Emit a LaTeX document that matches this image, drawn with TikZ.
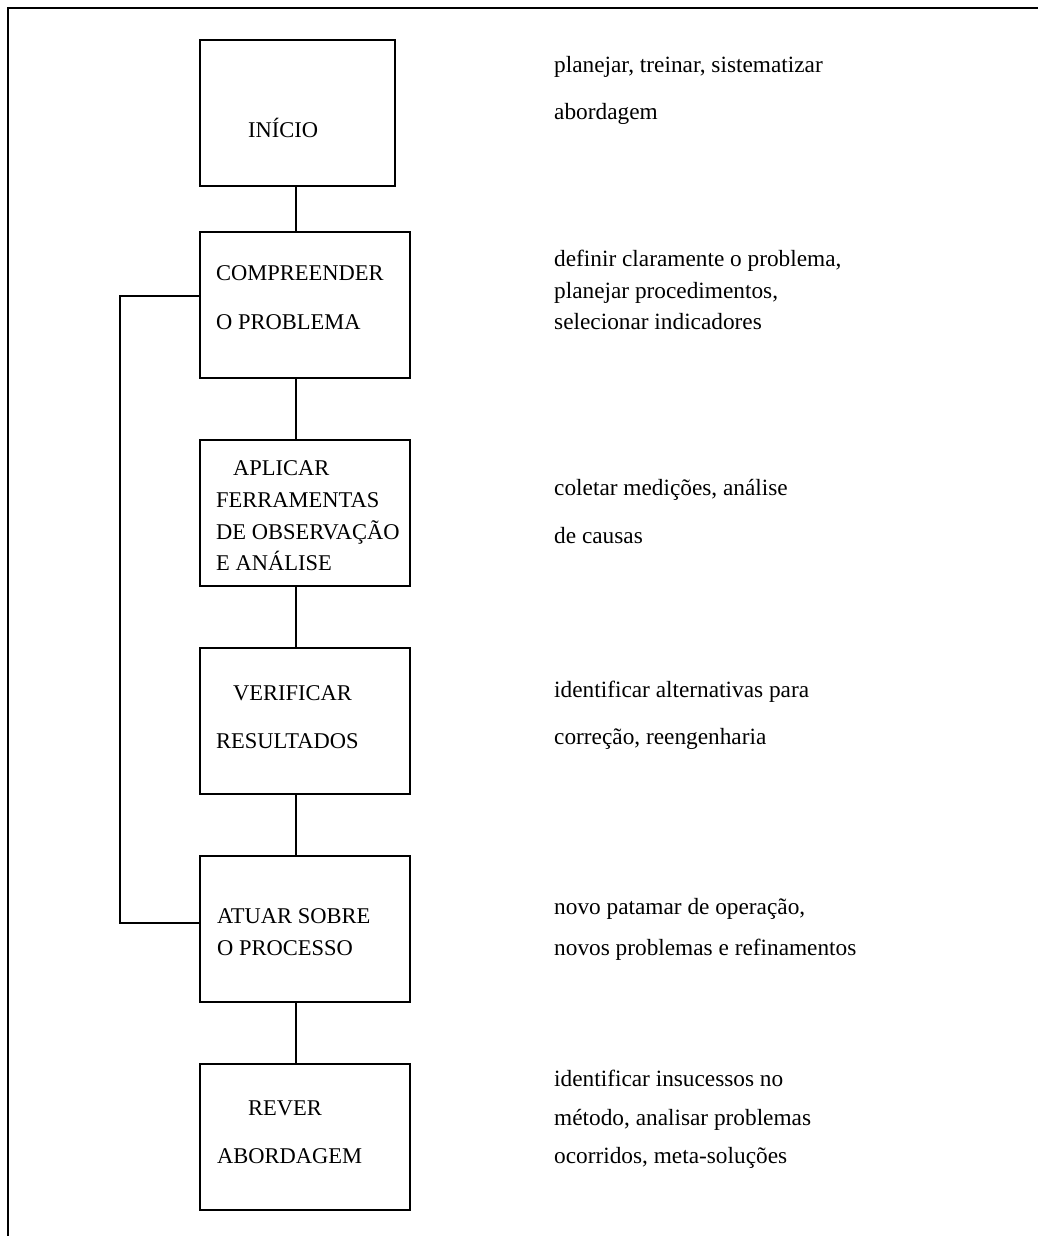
\documentclass[tikz,border=0pt]{standalone}
\usepackage{fontspec}
\setmainfont{Liberation Serif}
\begin{document}
\begin{tikzpicture}[x=1pt,y=1pt,
  box/.style={draw, line width=1.6pt, minimum width=210pt, minimum height=146pt, inner sep=0pt},
  lbl/.style={anchor=base west, inner sep=0pt, font=\fontsize{22.5}{27}\selectfont},
  note/.style={anchor=base west, inner sep=0pt, font=\fontsize{23.3}{27}\selectfont},
  link/.style={line width=1.6pt}]
\useasboundingbox (0,0) rectangle (1038,-1236);
% frame
\draw[line width=1.8pt] (1038,-8) -- (8,-8) -- (8,-1236);
% boxes
\node[box, minimum width=195pt] (b1) at (297.5,-113) {};
\node[box] (b2) at (305,-305) {};
\node[box] (b3) at (305,-513) {};
\node[box] (b4) at (305,-721) {};
\node[box] (b5) at (305,-929) {};
\node[box] (b6) at (305,-1137) {};
% connectors
\draw[link] ([xshift=-1.5pt]b1.south) -- ([xshift=-9pt]b2.north);
\draw[link] ([xshift=-9pt]b2.south) -- ([xshift=-9pt]b3.north);
\draw[link] ([xshift=-9pt]b3.south) -- ([xshift=-9pt]b4.north);
\draw[link] ([xshift=-9pt]b4.south) -- ([xshift=-9pt]b5.north);
\draw[link] ([xshift=-9pt]b5.south) -- ([xshift=-9pt]b6.north);
\coordinate (lp) at (120,-600);
\draw[link] ([yshift=9pt]b2.west) -| (lp) |- ([yshift=6pt]b5.west);
% box texts
\node[lbl] (t1) at (248,-137) {INÍCIO};
\node[lbl] (t2a) at (216,-280) {COMPREENDER};
\node[lbl] (t2b) at (216,-329) {O PROBLEMA};
\node[lbl] (t3a) at (233,-475) {APLICAR};
\node[lbl] (t3b) at (216,-507) {FERRAMENTAS};
\node[lbl] (t3c) at (216,-539) {DE OBSERVAÇÃO};
\node[lbl] (t3d) at (216,-570) {E ANÁLISE};
\node[lbl] (t4a) at (233,-700) {VERIFICAR};
\node[lbl] (t4b) at (216,-748) {RESULTADOS};
\node[lbl] (t5a) at (217,-923) {ATUAR SOBRE};
\node[lbl] (t5b) at (217,-955) {O PROCESSO};
\node[lbl] (t6a) at (248,-1115) {REVER};
\node[lbl] (t6b) at (217,-1163) {ABORDAGEM};
% notes
\node[note] (n1a) at (554,-73) {planejar, treinar, sistematizar};
\node[note] (n1b) at (554,-120) {abordagem};
\node[note] (n2a) at (554,-266) {definir claramente o problema,};
\node[note] (n2b) at (554,-298) {planejar procedimentos,};
\node[note] (n2c) at (554,-329) {selecionar indicadores};
\node[note] (n3a) at (554,-495) {coletar medições, análise};
\node[note] (n3b) at (554,-543) {de causas};
\node[note] (n4a) at (554,-697) {identificar alternativas para};
\node[note] (n4b) at (554,-744) {correção, reengenharia};
\node[note] (n5a) at (554,-914) {novo patamar de operação,};
\node[note] (n5b) at (554,-955) {novos problemas e refinamentos};
\node[note] (n6a) at (554,-1086) {identificar insucessos no};
\node[note] (n6b) at (554,-1125) {método, analisar problemas};
\node[note] (n6c) at (554,-1163) {ocorridos, meta-soluções};
\end{tikzpicture}
\end{document}
